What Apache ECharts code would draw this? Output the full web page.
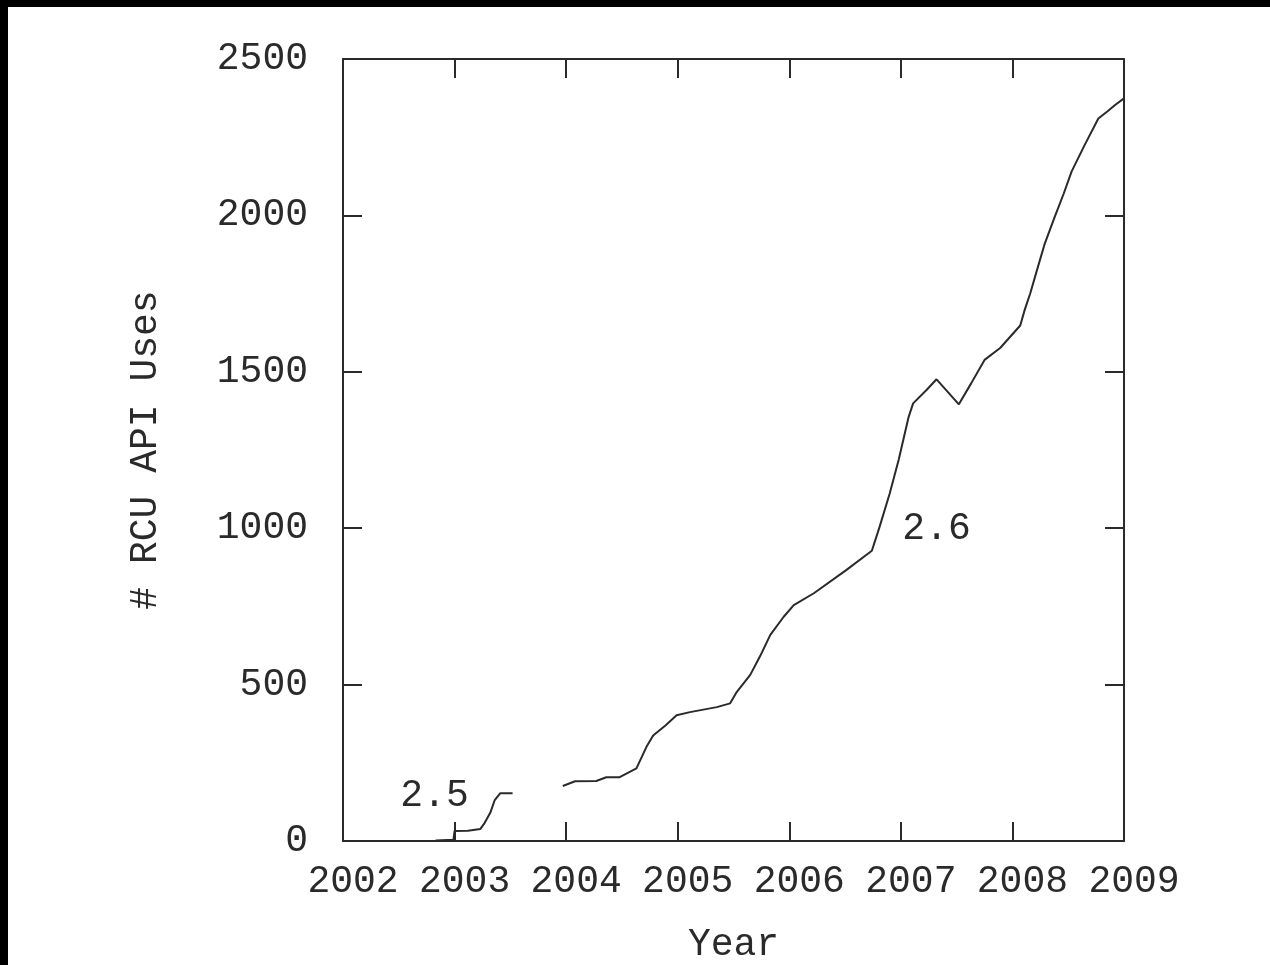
<!DOCTYPE html>
<html>
<head>
<meta charset="utf-8">
<script src="https://cdn.jsdelivr.net/npm/echarts@6/dist/echarts.min.js"></script>
<style>
  html, body { margin: 0; padding: 0; background: #fff; }
  #chart { width: 1270px; height: 965px; }
</style>
</head>
<body>
<div id="chart"></div>
<script>
// ---- Data ----
const xTicks = [2002, 2003, 2004, 2005, 2006, 2007, 2008, 2009];
const yTicks = [0, 500, 1000, 1500, 2000, 2500];

// Linux 2.5 series
const years25 = [2002.83, 2002.99, 2003.00, 2003.12, 2003.13, 2003.23, 2003.27, 2003.32, 2003.36, 2003.41, 2003.52];
const uses25  = [2, 4, 32, 33, 38, 38, 58, 90, 131, 153, 153];

// Linux 2.6 series
const years26 = [2003.97, 2004.08, 2004.27, 2004.36, 2004.48, 2004.63, 2004.72, 2004.78, 2004.89, 2004.99,
                 2005.11, 2005.35, 2005.47, 2005.53, 2005.65, 2005.74, 2005.83, 2005.95, 2006.04, 2006.22,
                 2006.51, 2006.74, 2006.81, 2006.90, 2006.98, 2007.07, 2007.11, 2007.23, 2007.32, 2007.52,
                 2007.63, 2007.75, 2007.89, 2008.07, 2008.11, 2008.16, 2008.22, 2008.29, 2008.38, 2008.46,
                 2008.53, 2008.64, 2008.77, 2008.85, 2008.92, 2009.00];
const uses26  = [176, 191, 192, 204, 204, 232, 301, 337, 369, 402,
                 412, 428, 440, 477, 531, 592, 659, 717, 754, 792,
                 866, 928, 1005, 1111, 1218, 1356, 1399, 1442, 1476, 1396,
                 1463, 1538, 1576, 1648, 1698, 1751, 1825, 1910, 1996, 2070,
                 2140, 2220, 2310, 2332, 2353, 2374];

// Text annotations (label, year, value)
const noteLabels = ['2.5', '2.6'];
const noteYears  = [2002.82, 2007.32];
const noteValues = [144, 997];

const xName = 'Year';
const yName = '# RCU API Uses';

// ---- Chart ----
const FONT = 'Liberation Mono';
const INK = '#2a2a2a';
const chart = echarts.init(document.getElementById('chart'), null, { renderer: 'canvas' });

const toPairs = (xs, ys) => xs.map((x, i) => [x, ys[i]]);

function xAxisCfg(pos, showLabel) {
  return {
    type: 'value', position: pos, min: xTicks[0], max: xTicks[xTicks.length - 1], interval: 1,
    axisLine: { show: true, onZero: false, lineStyle: { color: INK, width: 2 } },
    axisTick: { show: true, inside: true, length: 19, lineStyle: { color: INK, width: 2 } },
    axisLabel: { show: showLabel, margin: 22, fontFamily: FONT, fontSize: 38, color: INK,
                 padding: [0, 0, 0, 20], formatter: v => String(v) },
    splitLine: { show: false },
    name: showLabel ? xName : '', nameLocation: 'middle', nameGap: 85,
    nameTextStyle: { fontFamily: FONT, fontSize: 38, color: INK }
  };
}
function yAxisCfg(pos, showLabel) {
  return {
    type: 'value', position: pos, min: yTicks[0], max: yTicks[yTicks.length - 1], interval: 500,
    axisLine: { show: true, onZero: false, lineStyle: { color: INK, width: 2 } },
    axisTick: { show: true, inside: true, length: 19, lineStyle: { color: INK, width: 2 } },
    axisLabel: { show: showLabel, margin: 35, fontFamily: FONT, fontSize: 38, color: INK,
                 formatter: v => String(v) },
    splitLine: { show: false },
    name: showLabel ? yName : '', nameLocation: 'middle', nameGap: 178, nameRotate: 90,
    nameTextStyle: { fontFamily: FONT, fontSize: 38, color: INK }
  };
}

chart.setOption({
  animation: false,
  backgroundColor: '#fff',
  grid: { left: 343, right: 146, top: 59, bottom: 124, containLabel: false, outerBoundsMode: 'none' },
  xAxis: [xAxisCfg('bottom', true), xAxisCfg('top', false)],
  yAxis: [yAxisCfg('left', true), yAxisCfg('right', false)],
  graphic: [
    { type: 'rect', left: 0, top: 0, shape: { width: 1270, height: 7 }, style: { fill: '#000' }, z: 100 },
    { type: 'rect', left: 0, top: 0, shape: { width: 8, height: 965 }, style: { fill: '#000' }, z: 100 }
  ],
  series: [
    { type: 'line', name: '2.5', data: toPairs(years25, uses25), showSymbol: false,
      lineStyle: { color: INK, width: 2 }, itemStyle: { color: INK } },
    { type: 'line', name: '2.6', data: toPairs(years26, uses26), showSymbol: false,
      lineStyle: { color: INK, width: 2 }, itemStyle: { color: INK } },
    { type: 'scatter', name: 'notes', silent: true, symbolSize: 0,
      itemStyle: { color: INK, opacity: 1 },
      data: noteLabels.map((t, i) => ({ value: [noteYears[i], noteValues[i]], name: t })),
      label: { show: true, position: 'inside', formatter: p => p.name,
               fontFamily: FONT, fontSize: 38, color: INK, opacity: 1 } }
  ]
});
</script>
</body>
</html>
